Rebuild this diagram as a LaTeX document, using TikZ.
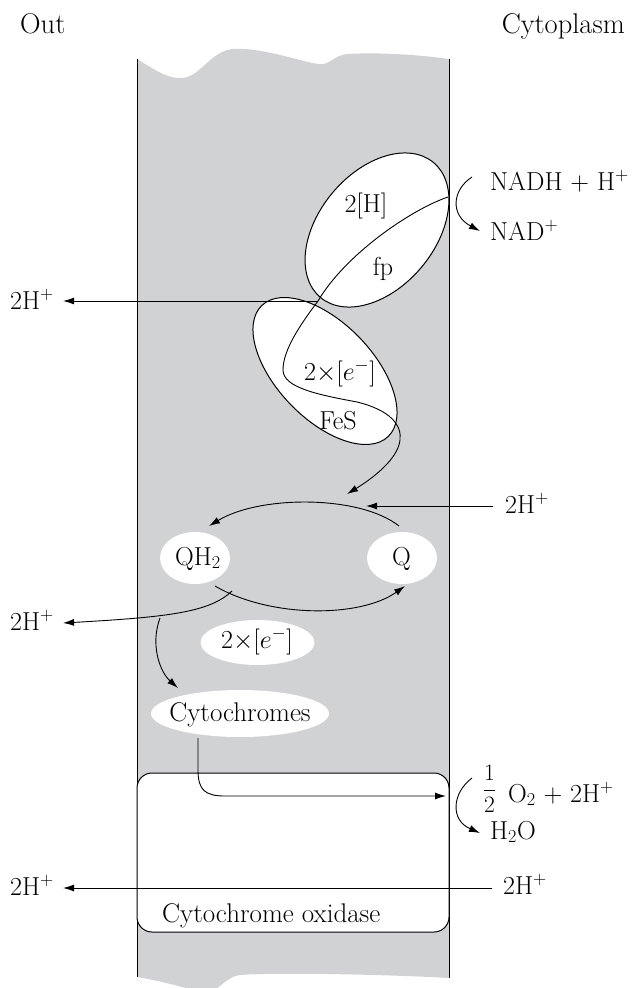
\documentclass[tikz,border=0pt]{standalone}
\usepackage{fix-cm}
\usepackage{fontspec}
\usetikzlibrary{arrows.meta,shapes.geometric}
\definecolor{memgray}{RGB}{209,210,212}
\begin{document}
\begin{tikzpicture}[x=1pt,y=-1pt,
  lbl/.style={inner sep=0pt, font=\fontsize{26}{30}\selectfont},
  word/.style={inner sep=0pt, font=\fontsize{27}{32}\selectfont},
  side/.style={inner sep=0pt, font=\fontsize{28.5}{34}\selectfont},
  arr/.style={-{Latex[length=11pt,width=7pt]}, line width=0.9pt},
  blob/.style={ellipse, fill=white, inner sep=0pt, outer sep=0pt},
  ring/.style={ellipse, draw, line width=1pt, inner sep=0pt, outer sep=0pt}]
\useasboundingbox (0,0) rectangle (633,988);

% membrane
\fill[memgray] (137,59) .. controls (155,70) and (168,79) .. (182,78)
  .. controls (200,77) and (210,52) .. (232,49)
  .. controls (260,47) and (295,60) .. (318,64)
  .. controls (330,66) and (333,55) .. (348,54)
  .. controls (380,52) and (420,55) .. (449,59)
  -- (449,978) .. controls (400,975) and (280,972) .. (240,975)
  .. controls (230,976) and (222,985) .. (212,992) -- (200,992)
  .. controls (180,986) and (155,980) .. (137,977) -- cycle;
\draw[line width=1pt] (137,59) -- (137,977);
\draw[line width=1pt] (449,59) -- (449,978);

% cytochrome oxidase box
\node[draw, fill=white, line width=1pt, rounded corners=15pt, minimum width=312pt, minimum height=159pt, inner sep=0pt] (oxbox) at (293,852.5) {};

% fp and FeS ellipses
\node[blob, minimum width=176pt, minimum height=116pt, rotate=50] (fp) at (377,230) {};
\node[blob, minimum width=182pt, minimum height=96pt, rotate=-46] (fes) at (325,371) {};
\node[ring, minimum width=176pt, minimum height=116pt, rotate=50] (fpring) at (377,230) {};
\node[ring, minimum width=182pt, minimum height=96pt, rotate=-46] (fesring) at (325,371) {};

% white blobs
\node[blob, minimum width=70pt, minimum height=52pt] (qh2) at (195,558) {};
\node[blob, minimum width=70pt, minimum height=52pt] (q) at (402,558) {};
\node[blob, minimum width=114pt, minimum height=45pt] (eblob) at (257.5,642.5) {};
\node[blob, minimum width=178pt, minimum height=47pt] (cyt) at (240,713.5) {};

% coordinates
\coordinate (nadhin) at (448,197);
\coordinate (cross) at (318,301);
\coordinate (qin) at (347,494);
\coordinate (h1tip) at (63,301);
\coordinate (nadha) at (472,177);
\coordinate (nadhb) at (480,231);
\coordinate (qtopa) at (399,526);
\coordinate (qtopb) at (209,526);
\coordinate (qbota) at (215,586);
\coordinate (qbotb) at (405,586);
\coordinate (hin) at (493,506);
\coordinate (hinb) at (366,506);
\coordinate (brA) at (232,591);
\coordinate (h3tip) at (63,623);
\coordinate (brB) at (160,618);
\coordinate (cytin) at (178,688);
\coordinate (cyt1) at (198,738);
\coordinate (oxin) at (446,796);
\coordinate (o2a) at (472,778);
\coordinate (o2b) at (480,833);
\coordinate (h4a) at (492,888);
\coordinate (h4tip) at (63,888);

% electron path through fp and FeS
\draw[arr] (nadhin) .. controls (410,210) and (345,255) .. (cross)
  .. controls (300,325) and (283,350) .. (283,370)
  .. controls (283,388) and (320,395) .. (357,402)
  .. controls (390,410) and (402,425) .. (400,440)
  .. controls (398,460) and (370,480) .. (qin);
\draw[arr] (cross) -- (h1tip);
\draw[arr] (nadha) .. controls (452,190) and (450,215) .. (nadhb);

% Q cycle
\draw[arr] (qtopa) .. controls (360,495) and (260,495) .. (qtopb);
\draw[arr] (qbota) .. controls (270,618) and (360,618) .. (qbotb);
\draw[arr] (hin) -- (hinb);
\draw[arr] (brA) .. controls (210,612) and (170,617) .. (h3tip);
\draw[arr] (brB) .. controls (150,645) and (160,672) .. (cytin);

% cytochromes to oxidase
\draw[arr] (cyt1) -- (198,770) .. controls (198,790) and (205,796) .. (225,796) -- (oxin);
\draw[arr] (o2a) .. controls (452,793) and (450,820) .. (o2b);
\draw[arr] (h4a) -- (h4tip);

% labels
\node[side, anchor=base west] (out) at (20,33) {Out};
\node[side, anchor=base east] (cytop) at (625,33) {Cytoplasm};
\node[lbl, anchor=base west] (nadh) at (490,190) {NADH + H$^+$};
\node[lbl, anchor=base west] (nad) at (490,240) {NAD$^+$};
\node[lbl, anchor=base] (twoh) at (366,212) {2[H]};
\node[lbl, anchor=base] (fplbl) at (383,275) {fp};
\node[lbl, anchor=base west] (h1) at (10,309) {2H$^+$};
\node[lbl, anchor=base] (e1) at (340,380) {2$\times$[$e^-$]};
\node[lbl, anchor=base] (feslbl) at (338,429) {FeS};
\node[lbl, anchor=base west] (h2) at (505,513) {2H$^+$};
\node[lbl, anchor=base] (qh2lbl) at (198,565) {QH$_2$};
\node[lbl, anchor=base] (qlbl) at (401.5,565) {Q};
\node[lbl, anchor=base west] (h3) at (10,630) {2H$^+$};
\node[lbl, anchor=base] (e2) at (257,648) {2$\times$[$e^-$]};
\node[word, anchor=base] (cytlbl) at (240,721) {Cytochromes};
\node[inner sep=0pt, font=\fontsize{23.5}{28}\selectfont, anchor=base] (half) at (489.5,795.9) {$\displaystyle\frac{1}{2}$};
\node[lbl, anchor=base west] (o2) at (508,802) {O$_2$ + 2H$^+$};
\node[lbl, anchor=base west] (h2o) at (490,839) {H$_2$O};
\node[lbl, anchor=base west] (h4) at (10,895) {2H$^+$};
\node[lbl, anchor=base west] (h5) at (503,894) {2H$^+$};
\node[word, anchor=base west] (oxlbl) at (162,922) {Cytochrome oxidase};
\end{tikzpicture}
\end{document}
